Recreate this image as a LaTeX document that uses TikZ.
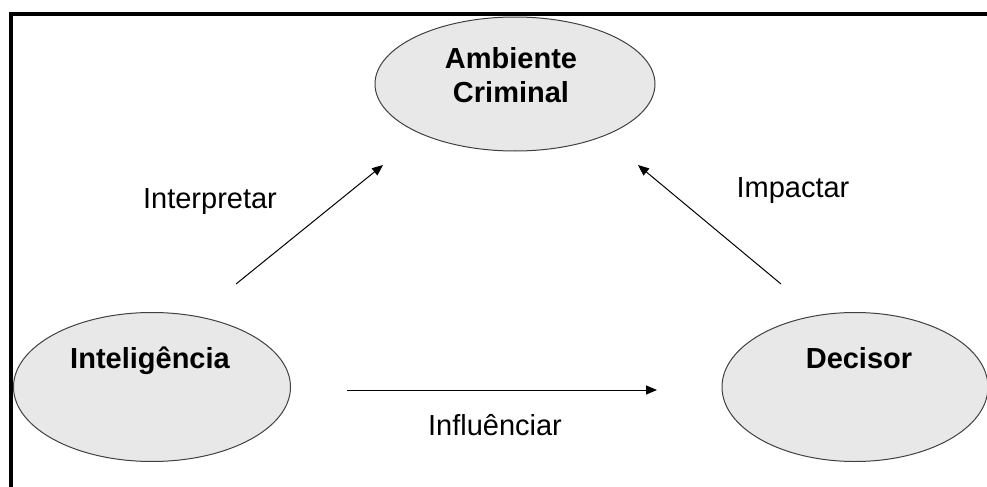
\documentclass[tikz,border=0pt]{standalone}
\usepackage{fontspec}
\setmainfont{Liberation Sans}
\usetikzlibrary{shapes.geometric,arrows.meta}

\tikzset{
  bola/.style={ellipse,draw=black!75,fill=black!9,line width=0.5pt,inner sep=0pt},
  titulo/.style={font=\fontsize{14.5}{17}\selectfont\bfseries,anchor=base,align=center},
  rotulo/.style={font=\fontsize{14.5}{17}\selectfont,anchor=base}
}

\begin{document}
\begin{tikzpicture}[x=0.5pt,y=-0.5pt,>={Triangle[length=5.5pt,width=4.5pt]},line width=0.5pt]
\useasboundingbox (0,0) rectangle (987,487);
\draw[line width=2pt] (11,487) -- (11,14) -- (987,14);

\node[bola,minimum width=140pt,minimum height=67pt] (amb) at (515,84) {};
\node[bola,minimum width=138.5pt,minimum height=74.5pt] (int) at (152,387) {};
\node[bola,minimum width=133pt,minimum height=74.5pt] (dec) at (855,387) {};

\node[titulo] (tamb) at (511,102) {Ambiente\\Criminal};
\node[titulo] (tint) at (150,368) {Inteligência};
\node[titulo] (tdec) at (859,368) {Decisor};

\coordinate (i1) at (236,284);
\coordinate (a1) at (383,165);
\coordinate (d1) at (781,284);
\coordinate (a2) at (638,165);
\coordinate (i2) at (347,390);
\coordinate (d2) at (657,390);

\draw[->] (i1) -- (a1);
\draw[->] (d1) -- (a2);
\draw[->] (i2) -- (d2);

\node[rotulo] (interp) at (210,208) {Interpretar};
\node[rotulo] (impac) at (793,197) {Impactar};
\node[rotulo] (influ) at (495,435) {Influênciar};
\end{tikzpicture}
\end{document}
